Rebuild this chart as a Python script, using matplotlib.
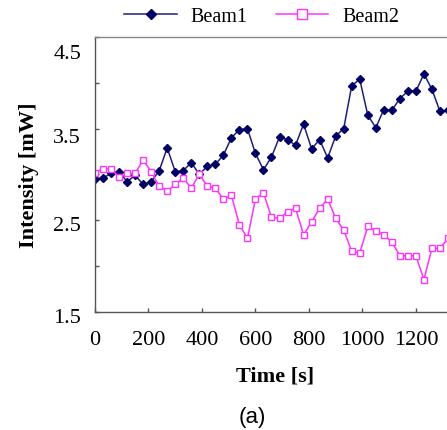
import matplotlib
matplotlib.use("Agg")
import matplotlib.pyplot as plt
import matplotlib.transforms as mtransforms

plt.rcParams["font.family"] = ["Liberation Serif", "DejaVu Serif"]

# sample times [s]
time_s = [0, 30, 60, 90, 120, 150, 180, 210, 240, 270, 300, 330, 360, 390, 420,
          450, 480, 510, 540, 570, 600, 630, 660, 690, 720, 750, 780, 810, 840,
          870, 900, 930, 960, 990, 1020, 1050, 1080, 1110, 1140, 1170, 1200,
          1230, 1260, 1290, 1320]

beam1 = [2.95, 2.96, 3.01, 3.03, 2.92, 2.99, 2.89, 2.92, 3.04, 3.29, 3.03,
         3.04, 3.13, 3.00, 3.09, 3.11, 3.21, 3.40, 3.49, 3.50, 3.23, 3.05,
         3.19, 3.41, 3.38, 3.32, 3.55, 3.28, 3.38, 3.18, 3.42, 3.50, 3.97,
         4.04, 3.65, 3.51, 3.71, 3.70, 3.83, 3.91, 3.91, 4.10, 3.93, 3.69, 3.70]

beam2 = [3.02, 3.06, 3.06, 2.97, 3.01, 3.01, 3.16, 3.03, 2.87, 2.82, 2.89,
         2.96, 2.85, 3.00, 2.87, 2.85, 2.73, 2.77, 2.45, 2.30, 2.73, 2.80,
         2.53, 2.52, 2.59, 2.63, 2.34, 2.48, 2.63, 2.73, 2.52, 2.39, 2.16,
         2.14, 2.43, 2.38, 2.34, 2.26, 2.11, 2.11, 2.11, 1.85, 2.19, 2.19, 2.30]

x_ticks = [0, 200, 400, 600, 800, 1000, 1200]
y_ticks = [1.5, 2.0, 2.5, 3.0, 3.5, 4.0, 4.5]
y_tick_labels = ["1.5", "", "2.5", "", "3.5", "", "4.5"]

W, H = 447, 431
fig = plt.figure(figsize=(W / 100, H / 100), dpi=100)
# axes extends past the right edge, like the cropped original
ax = fig.add_axes([95 / W, (H - 312.5) / H, 361 / W, 274.2 / H])

ax.plot(time_s, beam1, color="#1f1f7a", lw=1.1, marker="D", ms=4.2,
        mfc="#000066", mec="#000066", label="Beam1")
ax.plot(time_s, beam2, color="#ff33ff", lw=1.1, marker="s", ms=5,
        mfc="white", mec="#ff33ff", mew=1.0, label="Beam2")

ax.set_xlim(0, 1350)
ax.set_ylim(1.5, 4.5)
ax.set_xticks(x_ticks)
ax.set_yticks(y_ticks)
ax.set_yticklabels(y_tick_labels)
ax.tick_params(direction="in", length=3, width=1, color="#555555",
               labelsize=16)
ax.tick_params(axis="x", pad=13)
ax.tick_params(axis="y", pad=10)

# tick labels sit a little low in the original, the top one most of all
for lab, dy in zip(ax.get_yticklabels(), [-4, 0, -3, 0, -6, 0, -14]):
    lab.set_transform(lab.get_transform() +
                      mtransforms.ScaledTranslation(0, dy / 100, fig.dpi_scale_trans))

for side in ["left", "bottom", "top"]:
    ax.spines[side].set_color("#555555")
    ax.spines[side].set_linewidth(1.0)
ax.spines["top"].set_color("#888888")
ax.spines["right"].set_visible(False)

ax.set_xlabel("Time [s]", fontsize=16, fontweight="bold", labelpad=12)
ax.set_ylabel("Intensity [mW]", fontsize=16, fontweight="bold", labelpad=10)

fig.legend(loc="center", bbox_to_anchor=(262 / W, 1 - 17 / H), ncol=2,
           frameon=False, fontsize=14.5, handlelength=2.6, handletextpad=0.7,
           columnspacing=1.4, markerscale=1.3)

fig.text(252 / W, 1 - 418 / H, "(a)", ha="center", va="center",
         fontsize=16, family=["Liberation Sans", "DejaVu Sans"])

fig.savefig("out.png", dpi=100)
